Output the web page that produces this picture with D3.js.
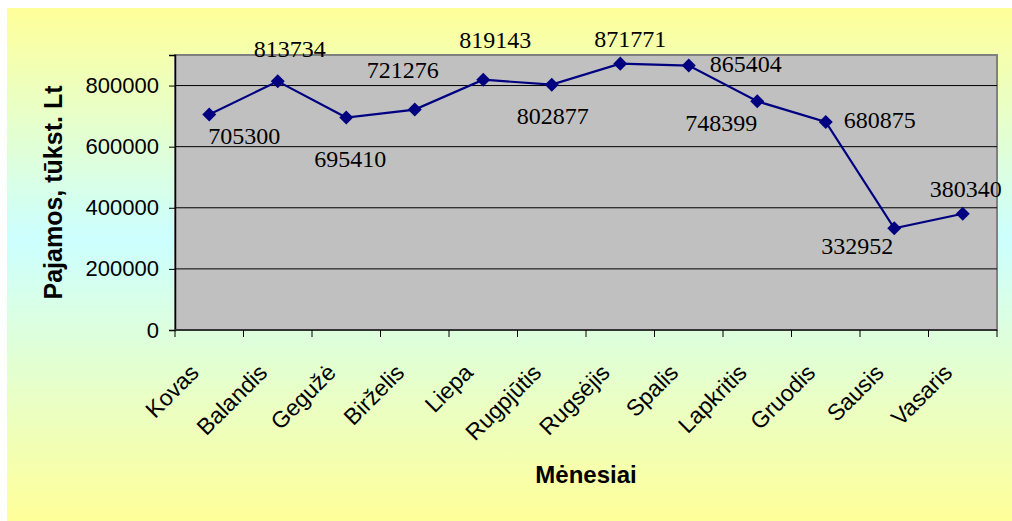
<!DOCTYPE html>
<html>
<head>
<meta charset="utf-8">
<script src="https://cdn.jsdelivr.net/npm/d3@7"></script>
<style>
    body { margin: 0; background: #fff; }
    svg { display: block; }
</style>
</head>
<body>
<div id="chart"></div>
<script>
const months = ['Kovas', 'Balandis', 'Gegužė', 'Birželis', 'Liepa', 'Rugpjūtis',
    'Rugsėjis', 'Spalis', 'Lapkritis', 'Gruodis', 'Sausis', 'Vasaris'];
const income = [705300, 813734, 695410, 721276, 819143, 802877,
    871771, 865404, 748399, 680875, 332952, 380340];
const yTicks = [0, 200000, 400000, 600000, 800000];
// where each value label sits relative to its point (hand placed, like the original)
const labelOffsets = [
    [35, 30], [12, -24], [4, 49], [-12, -32], [12, -32], [1, 39],
    [10, -17], [57, 6], [-36, 30], [54, 6], [-37, 26], [3, -17]
];

const width = 1012;
const height = 521;
const plot = { left: 175, right: 997, top: 55, bottom: 330 };

const svg = d3.select('#chart')
    .append('svg')
    .attr('width', width)
    .attr('height', height);

const grad = svg.append('defs').append('linearGradient')
    .attr('id', 'bg')
    .attr('x1', 0).attr('y1', 0).attr('x2', 0).attr('y2', 1);
grad.append('stop').attr('offset', '0%').attr('stop-color', '#FFFF99');
grad.append('stop').attr('offset', '45%').attr('stop-color', '#CCFFFF');
grad.append('stop').attr('offset', '100%').attr('stop-color', '#FFFF99');

svg.append('rect')
    .attr('x', 7).attr('y', 8)
    .attr('width', width - 7).attr('height', height - 8)
    .attr('fill', 'url(#bg)');

const x = d3.scaleBand()
    .domain(months)
    .range([plot.left, plot.right]);

const y = d3.scaleLinear()
    .domain([0, 900000])
    .range([plot.bottom, plot.top]);

// plot area
svg.append('rect')
    .attr('x', plot.left).attr('y', plot.top)
    .attr('width', plot.right - plot.left)
    .attr('height', plot.bottom - plot.top)
    .attr('fill', '#C0C0C0')
    .attr('stroke', '#808080')
    .attr('stroke-width', 2);

// gridlines
svg.append('g')
    .selectAll('line')
    .data(yTicks.filter(d => d > 0))
    .enter()
    .append('line')
    .attr('x1', plot.left).attr('x2', plot.right)
    .attr('y1', d => y(d)).attr('y2', d => y(d))
    .attr('stroke', '#000')
    .attr('stroke-width', 1);

// y axis
const yAxis = svg.append('g')
    .attr('transform', `translate(${plot.left},0)`)
    .call(d3.axisLeft(y).tickValues(yTicks).tickFormat(d3.format('d')).tickSize(6).tickPadding(10));
yAxis.select('.domain').attr('stroke', '#000').attr('stroke-width', 1.5);
yAxis.selectAll('text')
    .attr('fill', '#000')
    .style('font-family', 'Arial, "Liberation Sans", sans-serif')
    .style('font-size', '22px');

// x axis, ticks between categories
const xAxis = svg.append('g')
    .attr('transform', `translate(0,${plot.bottom})`);
xAxis.append('line')
    .attr('x1', plot.left).attr('x2', plot.right)
    .attr('stroke', '#333').attr('stroke-width', 2);
xAxis.selectAll('.tick')
    .data(months.concat(['end']))
    .enter()
    .append('line')
    .attr('x1', (d, i) => plot.left + i * x.step())
    .attr('x2', (d, i) => plot.left + i * x.step())
    .attr('y1', 0).attr('y2', 7)
    .attr('stroke', '#000');
xAxis.selectAll('text')
    .data(months)
    .enter()
    .append('text')
    .attr('transform', d => `translate(${x(d) + x.bandwidth() / 2 - 9},${44}) rotate(-45)`)
    .attr('text-anchor', 'end')
    .style('font-family', 'Arial, "Liberation Sans", sans-serif')
    .style('font-size', '23px')
    .text(d => d);

// line
const line = d3.line()
    .x((d, i) => x(months[i]) + x.bandwidth() / 2)
    .y(d => y(d));

svg.append('path')
    .datum(income)
    .attr('d', line)
    .attr('fill', 'none')
    .attr('stroke', '#000080')
    .attr('stroke-width', 2.2);

svg.append('g')
    .selectAll('path')
    .data(income)
    .enter()
    .append('path')
    .attr('d', d3.symbol().type(d3.symbolDiamond2).size(125))
    .attr('transform', (d, i) => `translate(${x(months[i]) + x.bandwidth() / 2},${y(d)})`)
    .attr('fill', '#000080');

// value labels
svg.append('g')
    .selectAll('text')
    .data(income)
    .enter()
    .append('text')
    .attr('x', (d, i) => x(months[i]) + x.bandwidth() / 2 + labelOffsets[i][0])
    .attr('y', (d, i) => y(d) + labelOffsets[i][1])
    .attr('text-anchor', 'middle')
    .style('font-family', '"Times New Roman", "Liberation Serif", serif')
    .style('font-size', '24px')
    .text(d => d);

// axis titles
svg.append('text')
    .attr('x', (plot.left + plot.right) / 2)
    .attr('y', 483)
    .attr('text-anchor', 'middle')
    .style('font-family', 'Arial, "Liberation Sans", sans-serif')
    .style('font-size', '24px')
    .style('font-weight', 'bold')
    .text('Mėnesiai');

svg.append('text')
    .attr('transform', `translate(62,${(plot.top + plot.bottom) / 2}) rotate(-90)`)
    .attr('text-anchor', 'middle')
    .style('font-family', 'Arial, "Liberation Sans", sans-serif')
    .style('font-size', '25px')
    .style('font-weight', 'bold')
    .text('Pajamos, tūkst. Lt');
</script>
</body>
</html>
